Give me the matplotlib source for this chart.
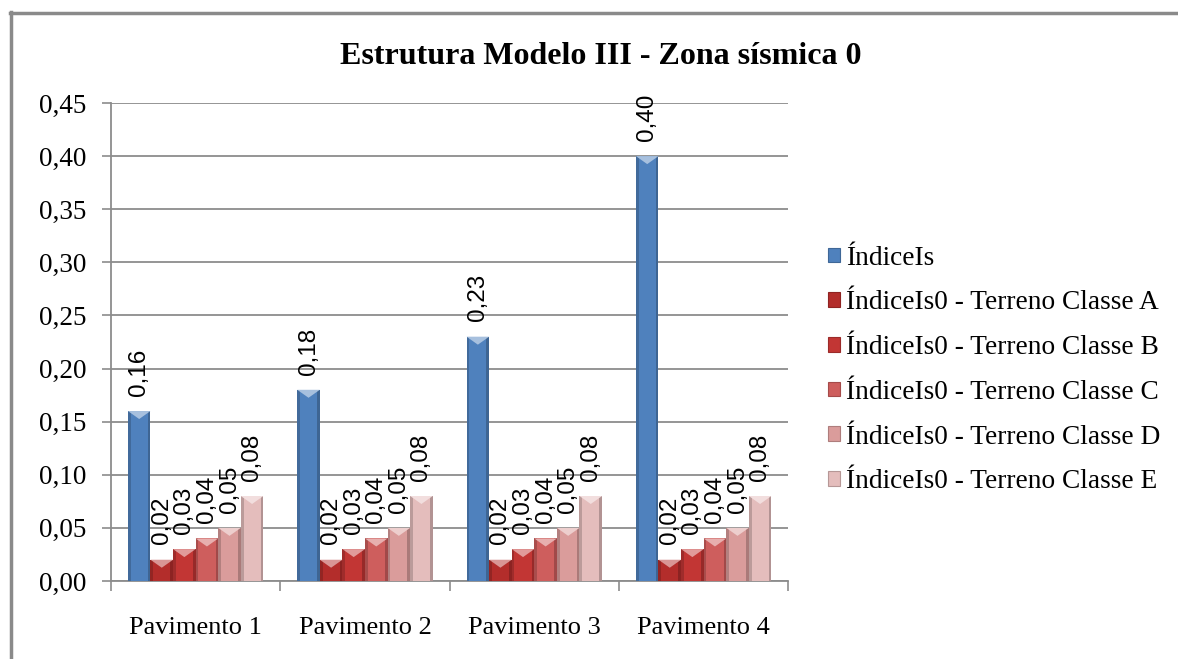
import numpy as np
import matplotlib
matplotlib.use("Agg")
import matplotlib.pyplot as plt
from matplotlib.patches import Rectangle, Polygon
from matplotlib.lines import Line2D
import matplotlib.colors as mcolors

# data
categorias = ["Pavimento 1", "Pavimento 2", "Pavimento 3", "Pavimento 4"]
series = ["ÍndiceIs",
          "ÍndiceIs0 - Terreno Classe A",
          "ÍndiceIs0 - Terreno Classe B",
          "ÍndiceIs0 - Terreno Classe C",
          "ÍndiceIs0 - Terreno Classe D",
          "ÍndiceIs0 - Terreno Classe E"]
indice_is = [0.16, 0.18, 0.23, 0.40]
classe_a = [0.02, 0.02, 0.02, 0.02]
classe_b = [0.03, 0.03, 0.03, 0.03]
classe_c = [0.04, 0.04, 0.04, 0.04]
classe_d = [0.05, 0.05, 0.05, 0.05]
classe_e = [0.08, 0.08, 0.08, 0.08]
valores = [indice_is, classe_a, classe_b, classe_c, classe_d, classe_e]
cores = ["#4F81BD", "#B32D2B", "#C23634", "#CE5E5D", "#DA9C9B", "#E4BDBC"]
yticks = [0.0, 0.05, 0.10, 0.15, 0.20, 0.25, 0.30, 0.35, 0.40, 0.45]

serif = "Liberation Serif"
sans = "Liberation Sans"

fig = plt.figure(figsize=(11.78, 6.59), dpi=100)
ax = fig.add_axes([0.0942, 0.1184, 0.575, 0.7253])

ymax = 0.45
ax.set_ylim(0, ymax)
ax.set_xlim(-0.5, len(categorias) - 0.5)

# excel style: gap width 150% -> bar = 1/7.5 of a category
w = 1 / 7.5
px_y = ymax / 478.0  # data units per pixel (approx)


def shade(c, f):
    r, g, b = mcolors.to_rgb(c)
    if f < 1:
        return (r * f, g * f, b * f)
    return (r + (1 - r) * (f - 1), g + (1 - g) * (f - 1), b + (1 - b) * (f - 1))


x = np.arange(len(categorias))
for i, (vals, cor) in enumerate(zip(valores, cores)):
    xs = x - 0.4 + i * w
    for x0, v in zip(xs, vals):
        ax.add_patch(Rectangle((x0, 0), w, v, facecolor=cor, edgecolor="none", zorder=3))
        # bevel sides
        ax.add_patch(Rectangle((x0, 0), w * 0.12, v, facecolor=shade(cor, 0.82),
                               edgecolor="none", zorder=3))
        ax.add_patch(Rectangle((x0 + w * 0.88, 0), w * 0.12, v, facecolor=shade(cor, 0.78),
                               edgecolor="none", zorder=3))
        # top highlight triangle
        th = 8 * px_y
        ax.add_patch(Polygon([(x0, v), (x0 + w, v), (x0 + w / 2, v - th)],
                             closed=True, facecolor=shade(cor, 1.5), edgecolor="none", zorder=4))
        lbl = ("%.2f" % v).replace(".", ",")
        ax.annotate(lbl, (x0 + w / 2, v), xytext=(0, 11), textcoords="offset points",
                    rotation=90, ha="center", va="bottom", fontsize=17.5,
                    family=sans, zorder=5)

# grid and axes
ax.set_yticks(yticks)
ax.set_yticklabels([("%.2f" % t).replace(".", ",") for t in yticks],
                   fontsize=19.5, family=serif)
ax.yaxis.grid(True, color="#8C8C8C", linewidth=1.3, zorder=0)
ax.set_axisbelow(True)
ax.tick_params(axis="y", length=6.5, width=1.2, color="#8C8C8C", pad=11)

ax.set_xticks(x)
ax.set_xticklabels(categorias, fontsize=19, family=serif)
ax.set_xticks(np.arange(len(categorias) + 1) - 0.5, minor=True)
ax.tick_params(axis="x", which="major", length=0, pad=26)
ax.tick_params(axis="x", which="minor", length=7, width=1.2, color="#8C8C8C")

for s in ["top", "right"]:
    ax.spines[s].set_visible(False)
ax.spines["left"].set_color("#8C8C8C")
ax.spines["left"].set_linewidth(1.3)
ax.spines["bottom"].set_color("#8C8C8C")
ax.spines["bottom"].set_linewidth(1.3)

fig.text(0.51, 0.915, "Estrutura Modelo III - Zona sísmica 0", ha="center", va="center",
         fontsize=23, fontweight="bold", family=serif)

# legend
handles = [Rectangle((0, 0), 1, 1, facecolor=c, edgecolor=shade(c, 0.8), linewidth=0.8)
           for c in cores]
leg = fig.legend(handles, series, loc="center left", bbox_to_anchor=(0.703, 0.4385),
                 frameon=False, prop={"family": serif, "size": 19.7},
                 handlelength=0.45, handleheight=0.45, handletextpad=0.22,
                 labelspacing=0.72, borderaxespad=0, borderpad=0)

# outer chart frame (only left and top visible)
fig.add_artist(Line2D([0.0095, 0.0095], [0, 0.982], transform=fig.transFigure,
                      color="#8A8A8A", linewidth=2.5))
fig.add_artist(Line2D([0.0085, 1.0], [0.981, 0.981], transform=fig.transFigure,
                      color="#8A8A8A", linewidth=2.5))

fig.savefig("out.png", dpi=100)
